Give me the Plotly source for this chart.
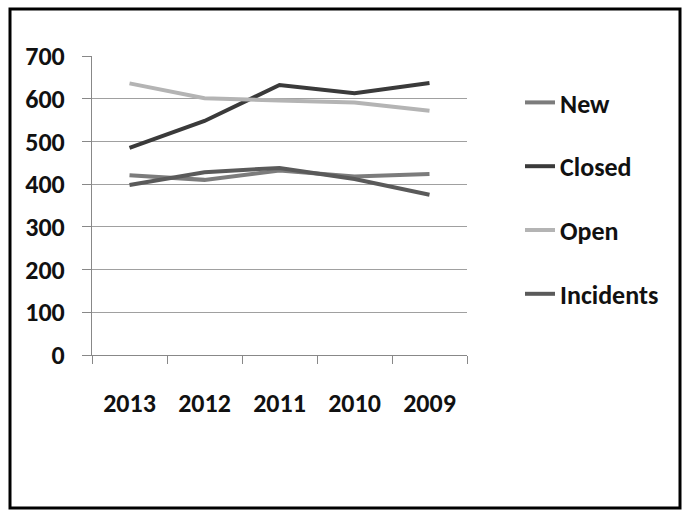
import plotly.graph_objects as go

years = ["2013", "2012", "2011", "2010", "2009"]
new_vals = [421, 410, 432, 418, 424]
closed_vals = [485, 548, 632, 613, 637]
open_vals = [636, 601, 596, 591, 572]
incident_vals = [398, 428, 438, 412, 375]
y_ticks = [0, 100, 200, 300, 400, 500, 600, 700]

series = [
    ("New", new_vals, "#7c7c7c"),
    ("Closed", closed_vals, "#3a3a3a"),
    ("Open", open_vals, "#b4b4b4"),
    ("Incidents", incident_vals, "#5a5a5a"),
]

FONT = "Carlito, Lato, sans-serif"
TXT = dict(family=FONT, size=26, color="#111", weight="bold")

fig = go.Figure()
for name, vals, col in series:
    fig.add_trace(go.Scatter(
        x=years, y=vals, name=name, mode="lines",
        line=dict(color=col, width=4),
        legendgroup=name,
    ))

W, H = 683, 513
ml, mr, mt, mb = 92, 216, 56, 158
pw, ph = W - ml - mr, H - mt - mb

def px2x(px):
    return (px - ml) / pw

def py2y(py):
    return (H - mb - py) / ph

fig.update_layout(
    width=W, height=H,
    margin=dict(l=ml, r=mr, t=mt, b=mb),
    paper_bgcolor="white", plot_bgcolor="white",
    font=TXT,
    showlegend=True,
    legend=dict(
        x=px2x(520), xanchor="left", y=py2y(79), yanchor="top",
        font=TXT,
        tracegroupgap=27, itemwidth=30, bgcolor="rgba(0,0,0,0)",
    ),
    xaxis=dict(
        type="category", range=[-0.5, 4.5], showgrid=False, showline=True,
        linecolor="#888", linewidth=1,
        ticks="outside", tickson="boundaries", ticklen=8, tickcolor="#888",
        ticklabelstandoff=25, tickfont=TXT,
    ),
    yaxis=dict(
        range=[0, 700], tickvals=y_ticks, showgrid=True,
        gridcolor="#a0a0a0", gridwidth=1,
        showline=True, linecolor="#888", linewidth=1,
        ticks="outside", ticklen=9, tickcolor="#888",
        ticklabelstandoff=12, tickfont=TXT,
        zeroline=False,
    ),
    shapes=[dict(
        type="rect", xref="paper", yref="paper",
        x0=px2x(10), x1=px2x(680), y0=py2y(508), y1=py2y(9),
        line=dict(color="black", width=3), fillcolor="rgba(0,0,0,0)",
        layer="above",
    )],
)

fig.write_html("out.html")
